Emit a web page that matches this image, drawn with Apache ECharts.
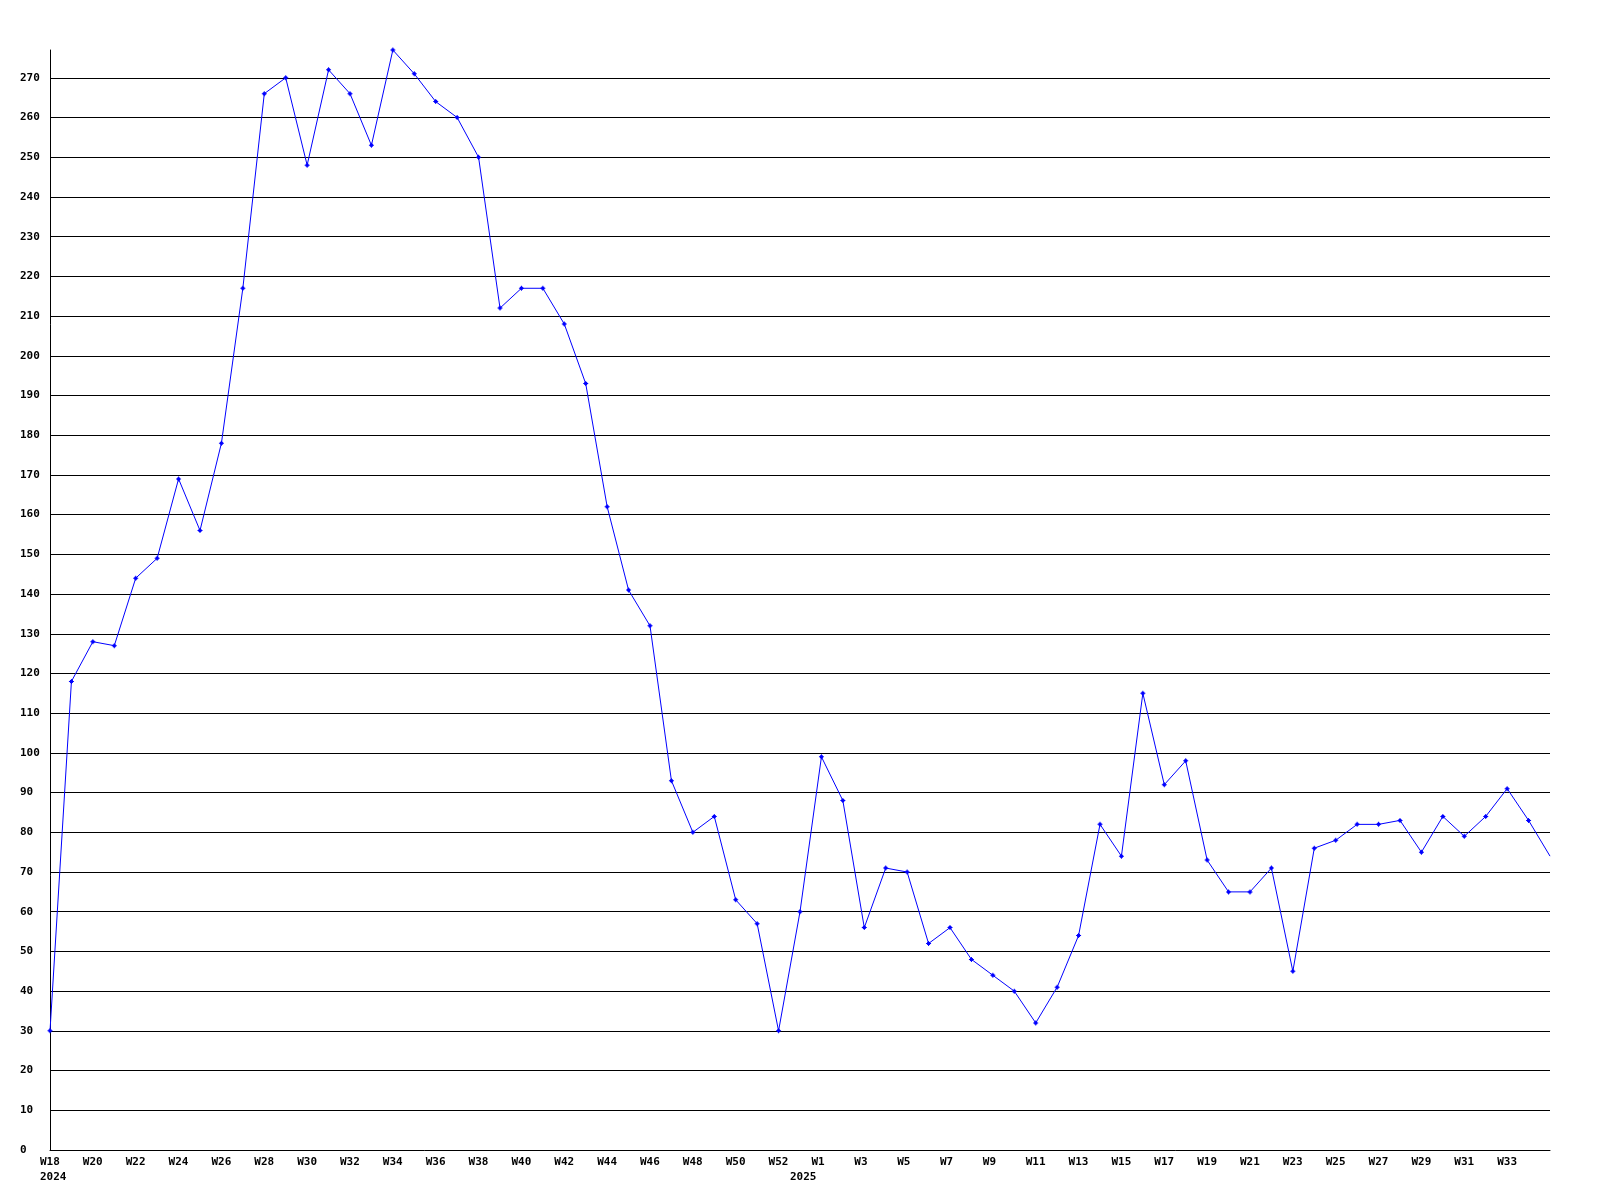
<!DOCTYPE html>
<html>
<head>
<meta charset="utf-8">
<script src="https://cdn.jsdelivr.net/npm/echarts@6/dist/echarts.min.js"></script>
<style>
html,body{margin:0;padding:0;background:#fff;}
#chart{width:1600px;height:1200px;}
</style>
</head>
<body>
<div id="chart"></div>
<script>
// Weekly categories: 2024 W18 .. W52, an extra week at the 2024/2025 turn, 2025 W1 .. W35
const categories = [
  '2024-W18','2024-W19','2024-W20','2024-W21','2024-W22','2024-W23','2024-W24','2024-W25','2024-W26','2024-W27',
  '2024-W28','2024-W29','2024-W30','2024-W31','2024-W32','2024-W33','2024-W34','2024-W35','2024-W36','2024-W37',
  '2024-W38','2024-W39','2024-W40','2024-W41','2024-W42','2024-W43','2024-W44','2024-W45','2024-W46','2024-W47',
  '2024-W48','2024-W49','2024-W50','2024-W51','2024-W52','2025-W0',
  '2025-W1','2025-W2','2025-W3','2025-W4','2025-W5','2025-W6','2025-W7','2025-W8','2025-W9','2025-W10',
  '2025-W11','2025-W12','2025-W13','2025-W14','2025-W15','2025-W16','2025-W17','2025-W18','2025-W19','2025-W20',
  '2025-W21','2025-W22','2025-W23','2025-W24','2025-W25','2025-W26','2025-W27','2025-W28','2025-W29','2025-W30',
  '2025-W31','2025-W32','2025-W33','2025-W34','2025-W35'
];

const values = [
  30,118,128,127,144,149,169,156,178,217,
  266,270,248,272,266,253,277,271,264,260,
  250,212,217,217,208,193,162,141,132,93,
  80,84,63,57,30,60,
  99,88,56,71,70,52,56,48,44,40,
  32,41,54,82,74,115,92,98,73,65,
  65,71,45,76,78,82,82,83,75,84,
  79,84,91,83,74
];

// X tick labels (empty string = no label)
const xTickLabels = [
  'W18\n2024','','W20','','W22','','W24','','W26','',
  'W28','','W30','','W32','','W34','','W36','',
  'W38','','W40','','W42','','W44','','W46','',
  'W48','','W50','','W52','\n2025',
  'W1','','W3','','W5','','W7','','W9','',
  'W11','','W13','','W15','','W17','','W19','',
  'W21','','W23','','W25','','W27','','W29','',
  'W31','','W33','',''
];

const yMin = 0, yMax = 277, yStep = 10;

const FONT = '"DejaVu Sans Mono", "Liberation Mono", monospace';
const markerPath = 'path://M2,0L3,0L3,1L4,1L4,2L5,2L5,3L4,3L4,4L3,4L3,5L2,5L2,4L1,4L1,3L0,3L0,2L1,2L1,1L2,1Z';

const chart = echarts.init(document.getElementById('chart'), null, {renderer: 'canvas'});
chart.setOption({
  animation: false,
  backgroundColor: '#ffffff',
  grid: {left: 50, right: 50, top: 50, bottom: 50, containLabel: false},
  xAxis: {
    type: 'category',
    data: categories,
    boundaryGap: false,
    axisLine: {show: true, lineStyle: {color: '#000', width: 1}},
    axisTick: {show: false},
    splitLine: {show: false},
    axisLabel: {
      interval: function (idx) { return xTickLabels[idx] !== ''; },
      formatter: function (val, idx) { return xTickLabels[idx]; },
      align: 'left',
      verticalAlign: 'top',
      padding: [0, 0, 0, -10],
      margin: 5,
      lineHeight: 15,
      color: '#000',
      fontFamily: FONT,
      fontWeight: 'bold',
      fontSize: 11,
      hideOverlap: false
    }
  },
  yAxis: {
    type: 'value',
    min: yMin,
    max: yMax,
    interval: yStep,
    axisLine: {show: true, lineStyle: {color: '#000', width: 1}},
    axisTick: {show: false},
    splitLine: {show: true, showMinLine: false, showMaxLine: false, lineStyle: {color: '#000', width: 1}},
    axisLabel: {
      showMaxLabel: false,
      align: 'left',
      margin: 30,
      color: '#000',
      fontFamily: FONT,
      fontWeight: 'bold',
      fontSize: 11
    }
  },
  series: [{
    type: 'line',
    data: values,
    symbol: function (v, params) { return params.dataIndex === values.length - 1 ? 'none' : markerPath; },
    symbolSize: 5,
    showAllSymbol: true,
    lineStyle: {color: '#0000ff', width: 1},
    itemStyle: {color: '#0000ff'},
    clip: true
  }]
});
</script>
</body>
</html>
